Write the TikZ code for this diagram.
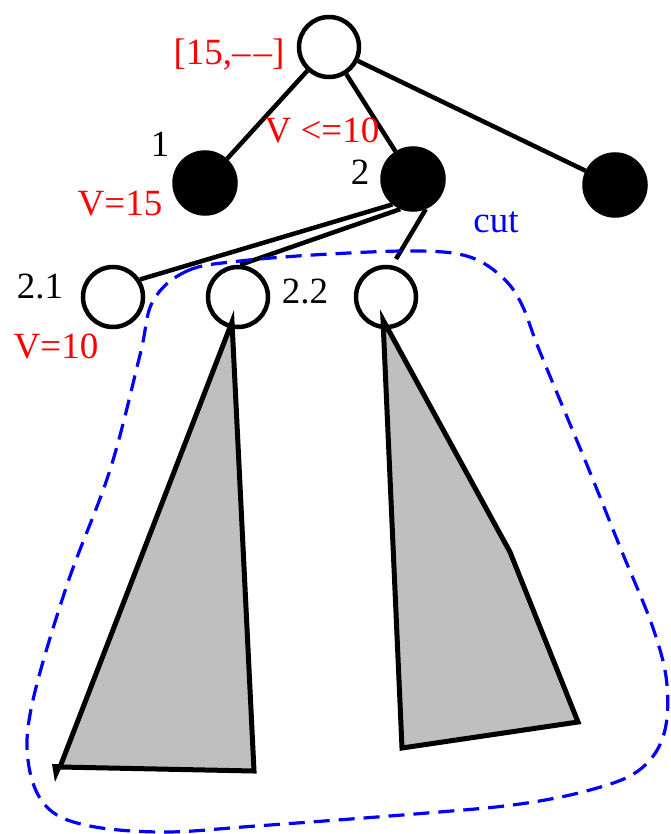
\documentclass[tikz,border=0pt]{standalone}
\usepackage{fontspec}
\setmainfont{Liberation Serif}
\begin{document}
\begin{tikzpicture}[x=1pt,y=-1pt,
  opennode/.style={circle,draw=black,fill=white,line width=4.5pt,minimum size=60pt,inner sep=0pt},
  fullnode/.style={circle,draw=black,fill=black,line width=4.5pt,minimum size=61pt,inner sep=0pt},
  edge/.style={line width=4.5pt,black},
  lbl/.style={font=\fontsize{37}{44}\selectfont,anchor=base,inner sep=0pt},
  redlbl/.style={lbl,text=red},
  subtree/.style={draw=black,line width=5pt,line join=miter,fill={rgb,255:red,191;green,191;blue,191}},
  cutline/.style={draw=blue,line width=3.2pt,dash pattern=on 16pt off 9pt}
]
\path[use as bounding box] (0,0) rectangle (670,834);

% nodes
\node[opennode] (r) at (329,47) {};
\node[fullnode] (n1) at (205,183) {};
\node[fullnode] (n2) at (413,179) {};
\node[fullnode] (n3) at (615,185) {};
\node[opennode] (n21) at (113,297) {};
\node[opennode] (n22) at (238,297) {};
\node[opennode] (n23) at (386,297) {};
\coordinate (e23) at (396,259);

% subtrees (tips reach into the circles)
\draw[subtree] (232,322) -- (60,767) -- (254,771) -- cycle;
\draw[subtree] (383,320) -- (510,552) -- (578,722) -- (402,748) -- cycle;
\fill[black] (52,764) -- (63,764) -- (55,782) -- cycle;

% edges
\draw[edge] (r) -- (n1);
\draw[edge] (r) -- (n2);
\draw[edge] (r) -- (n3);
\draw[edge] (n2.231) -- (n21.33);
\draw[edge] (n2.247) -- (n22.86);
\draw[edge] (n2.293) -- (e23);

% cut
\draw[cutline] plot[smooth cycle,tension=0.6] coordinates {
 (153,301) (187,271) (240,261) (330,254) (420,251) (470,257) (503,278)
 (522,305) (540,352) (587,465) (620,547) (653,628) (667,685) (663,737)
 (638,771) (590,790) (520,804) (427,813) (256,826) (162,832) (85,825)
 (45,805) (28,760) (33,700) (67,585) (110,470) (140,355)};

% labels
\node[redlbl] (lroot) at (229,65) {[15,–\kern3pt–]};
\node[redlbl] (lv10a) at (322,143) {V <=10};
\node[lbl] (l1) at (160,157) {1};
\node[lbl] (l2) at (360,185) {2};
\node[redlbl] (lv15) at (120,215) {V=15};
\node[lbl] (l21) at (40,298) {2.1};
\node[lbl] (l22) at (305,303) {2.2};
\node[redlbl] (lv10) at (56,358) {V=10};
\node[lbl,text=blue] (lcut) at (496,233) {cut};
\end{tikzpicture}
\end{document}
